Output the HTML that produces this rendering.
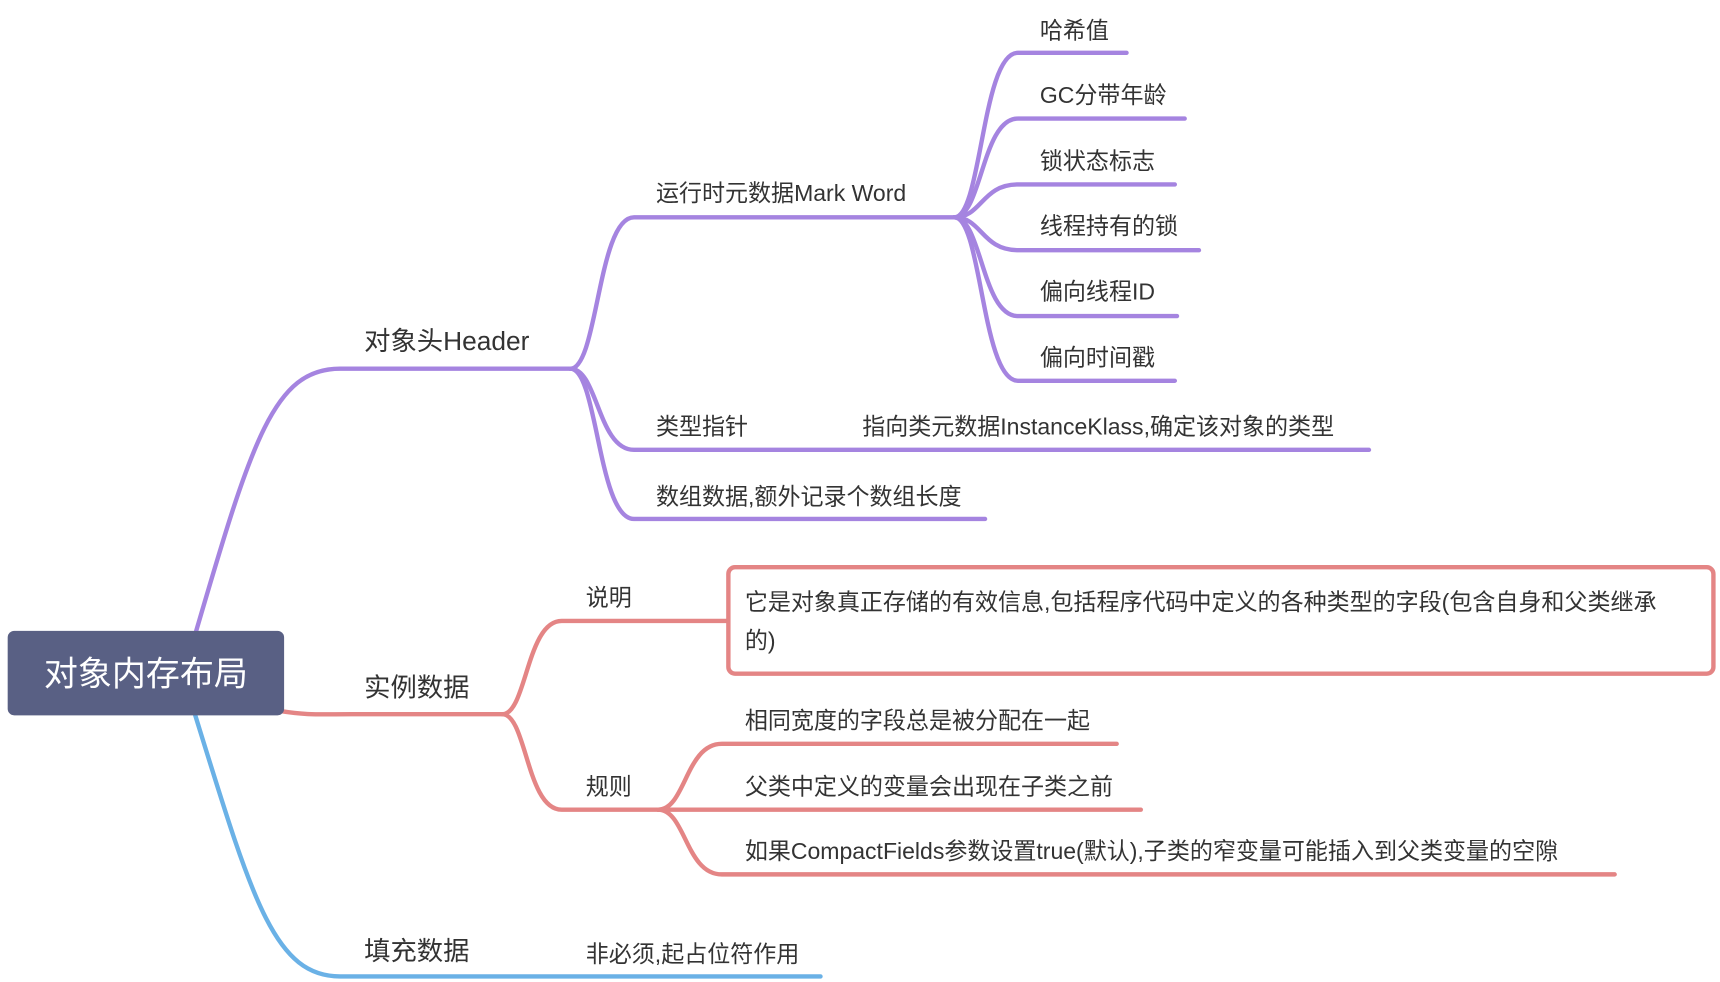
<!DOCTYPE html>
<html><head><meta charset="utf-8"><style>
html,body{margin:0;padding:0;background:#fff;width:1720px;height:982px;overflow:hidden}
text{font-family:"Liberation Sans","Noto Sans CJK SC",sans-serif;fill:#333}
</style></head><body>
<svg width="1720" height="982" viewBox="0 0 1568 895" xmlns="http://www.w3.org/2000/svg">
<g fill="none" stroke-width="4" stroke-linecap="round">
<!-- purple -->
<g stroke="#a584e0">
<path d="M178 578 C230 400 250 336 310 336 L520 336"/>
<path d="M520 336 C545 336 545 198 578 198 L872 198"/>
<path d="M520 336 C545 336 545 410 578 410 L1248 410"/>
<path d="M520 336 C545 336 545 473 578 473 L898 473"/>
<path d="M870 198 C895 198 895 48 928 48 L1027 48"/>
<path d="M870 198 C895 198 895 108 928 108 L1080 108"/>
<path d="M870 198 C895 198 895 168 928 168 L1071 168"/>
<path d="M870 198 C895 198 895 228 928 228 L1093 228"/>
<path d="M870 198 C895 198 895 288 928 288 L1073 288"/>
<path d="M870 198 C895 198 895 347 928 347 L1071 347"/>
</g>
<!-- red -->
<g stroke="#e48585">
<path d="M255 648 C280 652 290 651 320 651 L458 651"/>
<path d="M458 651 C480 651 480 566 512 566 L663 566"/>
<path d="M458 651 C480 651 480 738 512 738 L600 738"/>
<path d="M600 738 C625 738 625 678 658 678 L1018 678"/>
<path d="M600 738 L1040 738"/>
<path d="M600 738 C625 738 625 797 658 797 L1472 797"/>
<rect x="664" y="517" width="898" height="97" rx="6"/>
</g>
<!-- blue -->
<g stroke="#6ab1e6">
<path d="M178 652 C230 820 250 890 310 890 L748 890"/>
</g>
</g>
<rect x="7" y="575" width="252" height="77" rx="6" fill="#596084"/>
<text x="133" y="625" font-size="31" text-anchor="middle" style="fill:#fff">对象内存布局</text>
<g font-size="24">
<text x="332" y="319">对象头Header</text>
<text x="332" y="635">实例数据</text>
<text x="332" y="875">填充数据</text>
</g>
<g font-size="21">
<text x="598" y="183">运行时元数据Mark Word</text>
<text x="598" y="396">类型指针</text>
<text x="786" y="396">指向类元数据InstanceKlass,确定该对象的类型</text>
<text x="598" y="460">数组数据,额外记录个数组长度</text>
<text x="948" y="35">哈希值</text>
<text x="948" y="94">GC分带年龄</text>
<text x="948" y="154">锁状态标志</text>
<text x="948" y="213">线程持有的锁</text>
<text x="948" y="273">偏向线程ID</text>
<text x="948" y="333">偏向时间戳</text>
<text x="534" y="552">说明</text>
<text x="534" y="724">规则</text>
<text x="679" y="556">它是对象真正存储的有效信息,包括程序代码中定义的各种类型的字段(包含自身和父类继承</text>
<text x="679" y="591">的)</text>
<text x="679" y="664">相同宽度的字段总是被分配在一起</text>
<text x="679" y="724">父类中定义的变量会出现在子类之前</text>
<text x="679" y="783">如果CompactFields参数设置true(默认),子类的窄变量可能插入到父类变量的空隙</text>
<text x="534" y="877">非必须,起占位符作用</text>
</g>
</svg>
</body></html>
